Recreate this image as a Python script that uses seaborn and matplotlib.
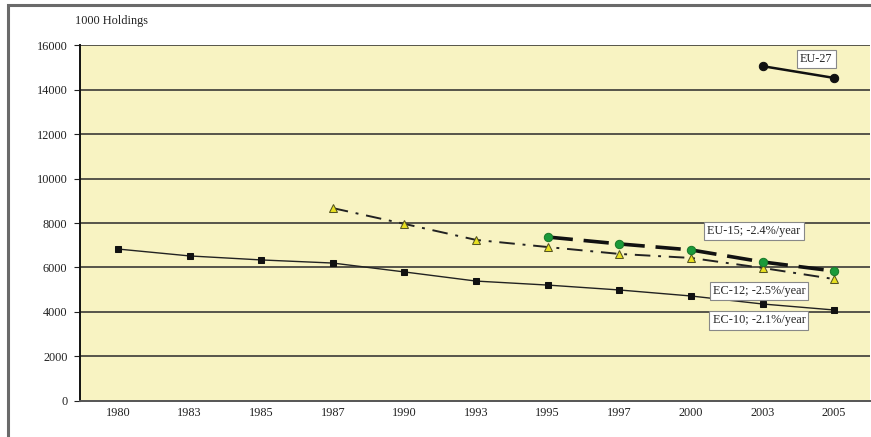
import matplotlib
matplotlib.use("Agg")
import matplotlib.pyplot as plt
import seaborn as sns
import pandas as pd
from matplotlib.patches import Rectangle

# ---------------------------------------------------------------------------
# Data (1000 holdings)
# ---------------------------------------------------------------------------
years = ["1980", "1983", "1985", "1987", "1990", "1993", "1995",
         "1997", "2000", "2003", "2005"]

ec10_years = ["1980", "1983", "1985", "1987", "1990", "1993", "1995",
              "1997", "2000", "2003", "2005"]
ec10_values = [6830, 6520, 6340, 6200, 5800, 5390, 5210, 4990, 4720, 4360, 4090]

ec12_years = ["1987", "1990", "1993", "1995", "1997", "2000", "2003", "2005"]
ec12_values = [8670, 7960, 7240, 6920, 6610, 6430, 5980, 5480]

eu15_years = ["1995", "1997", "2000", "2003", "2005"]
eu15_values = [7370, 7060, 6790, 6250, 5840]

eu27_years = ["2003", "2005"]
eu27_values = [15050, 14520]

labels = ["EC-10; -2.1%/year", "EC-12; -2.5%/year",
          "EU-15; -2.4%/year", "EU-27"]

BG = "#F8F3C2"
SERIF = ["Liberation Serif", "DejaVu Serif"]
FS = 8.8


def _frame(ys, vals, name):
    return pd.DataFrame({"pos": [years.index(y) for y in ys],
                         "value": vals, "series": name})


sns.set_style("white")
plt.rcParams["font.family"] = SERIF

fig = plt.figure(figsize=(8.71, 4.37), dpi=100)
ax = fig.add_axes([0.0918, 0.0824, 0.9070, 0.8146])
ax.set_facecolor(BG)

# outer frame of the original figure (top and left edges visible)
fig.patches.append(Rectangle((0.0092, -0.05), 1.2, 1.0386, transform=fig.transFigure,
                             fill=False, edgecolor="#6a6a6a", linewidth=2.2))

# horizontal grid
for v in range(2000, 16001, 2000):
    ax.axhline(v, color="#2a2a2a", linewidth=1.1, zorder=1)

# EC-10
d = _frame(ec10_years, ec10_values, labels[0])
sns.lineplot(data=d, x="pos", y="value", ax=ax, color="#222222", linewidth=1.0,
             marker="s", markersize=5, markerfacecolor="#111111",
             markeredgecolor="#111111", zorder=3)

# EC-12
d = _frame(ec12_years, ec12_values, labels[1])
sns.lineplot(data=d, x="pos", y="value", ax=ax, color="#222222", linewidth=1.4,
             linestyle=(0, (8, 4, 1.5, 4)), marker="^", markersize=6,
             markerfacecolor="#E8E020", markeredgecolor="#555522", zorder=3)

# EU-15
d = _frame(eu15_years, eu15_values, labels[2])
sns.lineplot(data=d, x="pos", y="value", ax=ax, color="#111111", linewidth=2.6,
             linestyle=(0, (7, 3)), marker="o", markersize=6,
             markerfacecolor="#1a9a3a", markeredgecolor="#1a7a2a", zorder=4)

# EU-27
d = _frame(eu27_years, eu27_values, labels[3])
sns.lineplot(data=d, x="pos", y="value", ax=ax, color="#111111", linewidth=1.8,
             marker="o", markersize=6, markerfacecolor="#111111",
             markeredgecolor="#111111", zorder=4)

# boxed series labels
box = dict(boxstyle="square,pad=0.25", facecolor="white", edgecolor="#888888",
           linewidth=0.8)
label_pos = [(8.95, 3620), (8.95, 4960), (8.88, 7640), (9.75, 15360)]
for text, (px, py) in zip(labels, label_pos):
    ax.text(px, py, text, fontsize=FS, ha="center", va="center",
            bbox=box, zorder=6, family=SERIF)

ax.set_xlim(-0.53, 10.5)
ax.set_ylim(0, 16000)
ax.set_xticks(range(len(years)))
ax.set_xticklabels(years)
ax.set_yticks(range(0, 16001, 2000))
ax.set_xlabel("")
ax.set_ylabel("")
ax.tick_params(axis="both", labelsize=FS, colors="#222222")
ax.tick_params(axis="y", length=4, width=0.8, direction="out", left=True, pad=5)
ax.tick_params(axis="x", length=0, pad=4)

for side in ["top", "right"]:
    ax.spines[side].set_visible(False)
ax.spines["left"].set_color("#111111")
ax.spines["left"].set_linewidth(1.4)
ax.spines["bottom"].set_color("#555555")
ax.spines["bottom"].set_linewidth(1.4)

fig.text(0.086, 0.945, "1000 Holdings", fontsize=FS, family=SERIF, color="#222222")

fig.savefig("out.png", dpi=100, facecolor="white")
